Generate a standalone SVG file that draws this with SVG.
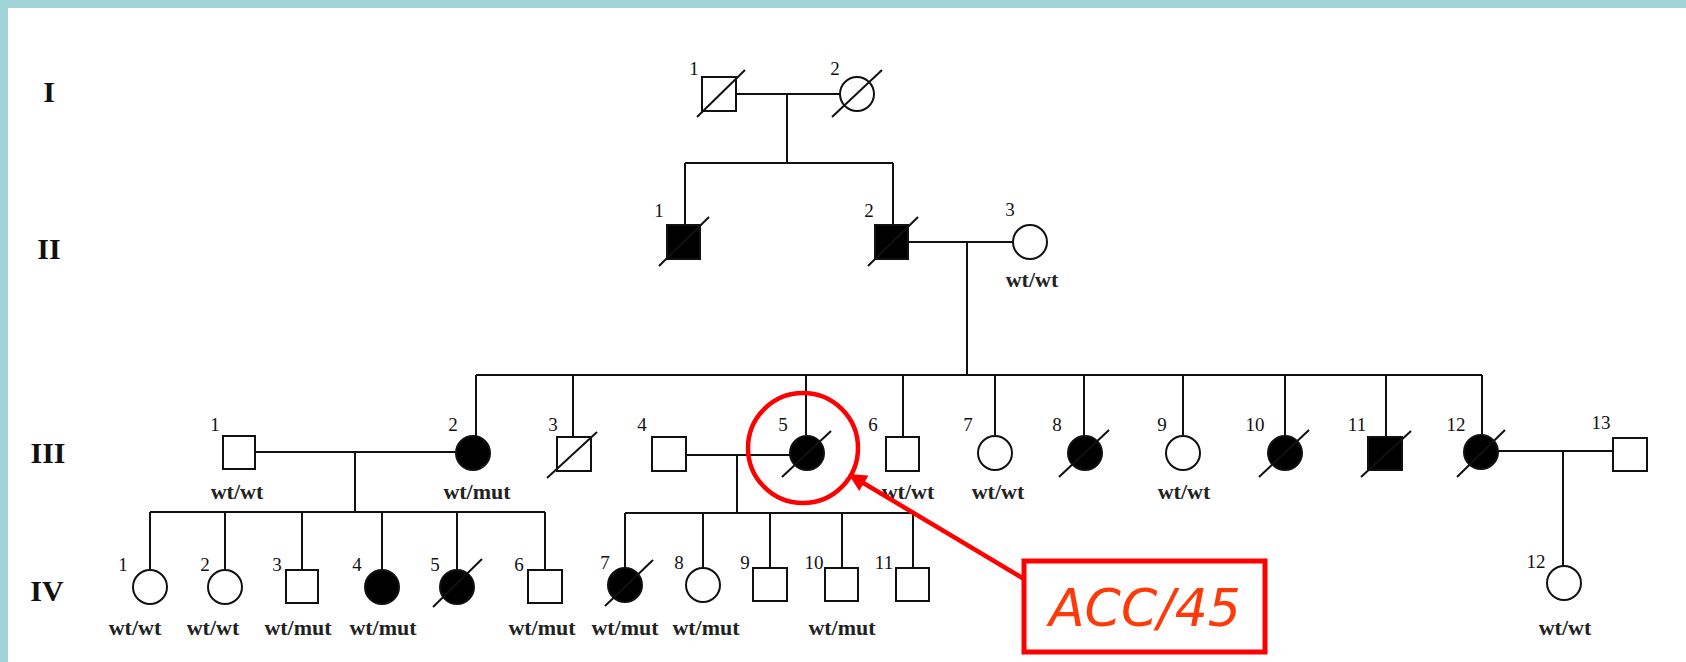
<svg xmlns="http://www.w3.org/2000/svg" width="1686" height="662" viewBox="0 0 1686 662">
  <style>
    .sq { fill: #fff; stroke: #111; stroke-width: 2; }
    .ci { fill: #fff; stroke: #111; stroke-width: 2; }
    .aff { fill: #000; }
    .dec { stroke: #111; stroke-width: 2; }
    .ln { stroke: #111; stroke-width: 2; fill: none; }
    .num { font-family: "Liberation Serif", serif; font-size: 19px; fill: #111; text-anchor: middle; }
    .gt { font-family: "Liberation Serif", serif; font-size: 22px; font-weight: bold; fill: #222; text-anchor: middle; }
    .gen { font-family: "Liberation Serif", serif; font-size: 30px; font-weight: bold; fill: #111; text-anchor: middle; }
    .red { stroke: #ff0000; fill: none; }
    .tag { font-family: "DejaVu Sans", sans-serif; font-style: oblique; font-size: 52px; fill: #ff3a0a; text-anchor: middle; }
  </style>
  <defs>
    <marker id="tip" viewBox="0 0 10 10" refX="9" refY="5" markerWidth="4" markerHeight="4" orient="auto" markerUnits="strokeWidth">
      <path d="M0,0 L10,5 L0,10 z" fill="#ff0000"/>
    </marker>
  </defs>

  <!-- page frame -->
  <rect x="0" y="0" width="1686" height="662" fill="#fff"/>
  <rect x="0" y="0" width="1686" height="8" fill="#a0d4d8"/>
  <rect x="0" y="0" width="8" height="662" fill="#a0d4d8"/>

  <!-- generation numerals -->
  <g id="generations">
    <text class="gen" x="49" y="102">I</text>
    <text class="gen" x="49" y="259">II</text>
    <text class="gen" x="48" y="463">III</text>
    <text class="gen" x="47" y="601">IV</text>
  </g>

  <!-- connectors: couple lines, descent lines and sibships -->
  <g id="connectors">
    <line class="ln" x1="736" y1="94" x2="840" y2="94"/>
    <line class="ln" x1="787" y1="94" x2="787" y2="163"/>
    <line class="ln" x1="685" y1="163" x2="893" y2="163"/>
    <line class="ln" x1="685" y1="163" x2="685" y2="225"/>
    <line class="ln" x1="893" y1="163" x2="893" y2="225"/>

    <line class="ln" x1="908" y1="242" x2="1013" y2="242"/>
    <line class="ln" x1="967" y1="242" x2="967" y2="375"/>
    <line class="ln" x1="476" y1="375" x2="1482" y2="375"/>
    <line class="ln" x1="476" y1="375" x2="476" y2="436"/>
    <line class="ln" x1="573" y1="375" x2="573" y2="437"/>
    <line class="ln" x1="806" y1="375" x2="806" y2="436"/>
    <line class="ln" x1="903" y1="375" x2="903" y2="437"/>
    <line class="ln" x1="995" y1="375" x2="995" y2="436"/>
    <line class="ln" x1="1084" y1="375" x2="1084" y2="436"/>
    <line class="ln" x1="1183" y1="375" x2="1183" y2="436"/>
    <line class="ln" x1="1285" y1="375" x2="1285" y2="436"/>
    <line class="ln" x1="1386" y1="375" x2="1386" y2="437"/>
    <line class="ln" x1="1482" y1="375" x2="1482" y2="436"/>

    <line class="ln" x1="255" y1="452" x2="456" y2="452"/>
    <line class="ln" x1="355" y1="452" x2="355" y2="512"/>
    <line class="ln" x1="150" y1="512" x2="545" y2="512"/>
    <line class="ln" x1="150" y1="512" x2="150" y2="570"/>
    <line class="ln" x1="225" y1="512" x2="225" y2="570"/>
    <line class="ln" x1="302" y1="512" x2="302" y2="570"/>
    <line class="ln" x1="382" y1="512" x2="382" y2="570"/>
    <line class="ln" x1="457" y1="512" x2="457" y2="570"/>
    <line class="ln" x1="545" y1="512" x2="545" y2="570"/>

    <line class="ln" x1="686" y1="455" x2="790" y2="455"/>
    <line class="ln" x1="737" y1="455" x2="737" y2="513"/>
    <line class="ln" x1="625" y1="513" x2="913" y2="513"/>
    <line class="ln" x1="625" y1="513" x2="625" y2="568"/>
    <line class="ln" x1="703" y1="513" x2="703" y2="568"/>
    <line class="ln" x1="770" y1="513" x2="770" y2="568"/>
    <line class="ln" x1="842" y1="513" x2="842" y2="568"/>
    <line class="ln" x1="913" y1="513" x2="913" y2="568"/>

    <line class="ln" x1="1498" y1="451" x2="1613" y2="451"/>
    <line class="ln" x1="1563" y1="451" x2="1563" y2="566"/>
  </g>

  <!-- generation I -->
  <g id="I-1">
    <rect class="sq" x="702" y="77" width="34" height="34"/>
    <line class="dec" x1="697" y1="117" x2="745" y2="70"/>
    <text class="num" x="694" y="75">1</text>
  </g>
  <g id="I-2">
    <circle class="ci" cx="857" cy="94" r="17"/>
    <line class="dec" x1="832" y1="117" x2="882" y2="70"/>
    <text class="num" x="835" y="75">2</text>
  </g>

  <!-- generation II -->
  <g id="II-1">
    <rect class="sq aff" x="667" y="225" width="33" height="34"/>
    <line class="dec" x1="659" y1="266" x2="709" y2="217"/>
    <text class="num" x="659" y="217">1</text>
  </g>
  <g id="II-2">
    <rect class="sq aff" x="875" y="225" width="33" height="34"/>
    <line class="dec" x1="868" y1="266" x2="918" y2="217"/>
    <text class="num" x="869" y="217">2</text>
  </g>
  <g id="II-3">
    <circle class="ci" cx="1030" cy="242" r="17"/>
    <text class="num" x="1010" y="216">3</text>
    <text class="gt" x="1032" y="287">wt/wt</text>
  </g>

  <!-- generation III -->
  <g id="III-1">
    <rect class="sq" x="223" y="436" width="32" height="33"/>
    <text class="num" x="215" y="431">1</text>
    <text class="gt" x="237" y="499">wt/wt</text>
  </g>
  <g id="III-2">
    <circle class="ci aff" cx="473" cy="453" r="17"/>
    <text class="num" x="453" y="431">2</text>
    <text class="gt" x="477" y="499">wt/mut</text>
  </g>
  <g id="III-3">
    <rect class="sq" x="557" y="437" width="34" height="34"/>
    <line class="dec" x1="547" y1="478" x2="597" y2="432"/>
    <text class="num" x="553" y="431">3</text>
  </g>
  <g id="III-4">
    <rect class="sq" x="652" y="437" width="34" height="34"/>
    <text class="num" x="642" y="431">4</text>
  </g>
  <g id="III-5">
    <circle class="ci aff" cx="807" cy="453" r="17"/>
    <line class="dec" x1="782" y1="477" x2="831" y2="431"/>
    <text class="num" x="783" y="431">5</text>
  </g>
  <g id="III-6">
    <rect class="sq" x="886" y="437" width="33" height="34"/>
    <text class="num" x="873" y="431">6</text>
    <text class="gt" x="908" y="499">wt/wt</text>
  </g>
  <g id="III-7">
    <circle class="ci" cx="995" cy="453" r="17"/>
    <text class="num" x="968" y="431">7</text>
    <text class="gt" x="998" y="499">wt/wt</text>
  </g>
  <g id="III-8">
    <circle class="ci aff" cx="1085" cy="453" r="17"/>
    <line class="dec" x1="1059" y1="477" x2="1109" y2="430"/>
    <text class="num" x="1057" y="431">8</text>
  </g>
  <g id="III-9">
    <circle class="ci" cx="1183" cy="453" r="17"/>
    <text class="num" x="1162" y="431">9</text>
    <text class="gt" x="1184" y="499">wt/wt</text>
  </g>
  <g id="III-10">
    <circle class="ci aff" cx="1285" cy="453" r="17"/>
    <line class="dec" x1="1259" y1="477" x2="1309" y2="430"/>
    <text class="num" x="1255" y="431">10</text>
  </g>
  <g id="III-11">
    <rect class="sq aff" x="1368" y="437" width="34" height="33"/>
    <line class="dec" x1="1361" y1="477" x2="1411" y2="431"/>
    <text class="num" x="1357" y="431">11</text>
  </g>
  <g id="III-12">
    <circle class="ci aff" cx="1481" cy="452" r="17"/>
    <line class="dec" x1="1457" y1="477" x2="1505" y2="430"/>
    <text class="num" x="1456" y="431">12</text>
  </g>
  <g id="III-13">
    <rect class="sq" x="1613" y="438" width="34" height="33"/>
    <text class="num" x="1601" y="429">13</text>
  </g>

  <!-- generation IV -->
  <g id="IV-1">
    <circle class="ci" cx="150" cy="587" r="17"/>
    <text class="num" x="123" y="571">1</text>
    <text class="gt" x="135" y="635">wt/wt</text>
  </g>
  <g id="IV-2">
    <circle class="ci" cx="225" cy="587" r="17"/>
    <text class="num" x="205" y="571">2</text>
    <text class="gt" x="213" y="635">wt/wt</text>
  </g>
  <g id="IV-3">
    <rect class="sq" x="286" y="570" width="32" height="33"/>
    <text class="num" x="277" y="571">3</text>
    <text class="gt" x="298" y="635">wt/mut</text>
  </g>
  <g id="IV-4">
    <circle class="ci aff" cx="382" cy="587" r="17"/>
    <text class="num" x="357" y="571">4</text>
    <text class="gt" x="383" y="635">wt/mut</text>
  </g>
  <g id="IV-5">
    <circle class="ci aff" cx="457" cy="587" r="17"/>
    <line class="dec" x1="433" y1="607" x2="482" y2="559"/>
    <text class="num" x="435" y="571">5</text>
  </g>
  <g id="IV-6">
    <rect class="sq" x="528" y="570" width="34" height="33"/>
    <text class="num" x="519" y="571">6</text>
    <text class="gt" x="542" y="635">wt/mut</text>
  </g>
  <g id="IV-7">
    <circle class="ci aff" cx="625" cy="585" r="17"/>
    <line class="dec" x1="605" y1="606" x2="653" y2="560"/>
    <text class="num" x="605" y="569">7</text>
    <text class="gt" x="625" y="635">wt/mut</text>
  </g>
  <g id="IV-8">
    <circle class="ci" cx="703" cy="585" r="17"/>
    <text class="num" x="679" y="569">8</text>
    <text class="gt" x="706" y="635">wt/mut</text>
  </g>
  <g id="IV-9">
    <rect class="sq" x="753" y="568" width="34" height="33"/>
    <text class="num" x="745" y="569">9</text>
  </g>
  <g id="IV-10">
    <rect class="sq" x="825" y="568" width="33" height="33"/>
    <text class="num" x="814" y="569">10</text>
    <text class="gt" x="842" y="635">wt/mut</text>
  </g>
  <g id="IV-11">
    <rect class="sq" x="896" y="568" width="33" height="33"/>
    <text class="num" x="884" y="569">11</text>
  </g>
  <g id="IV-12">
    <circle class="ci" cx="1564" cy="583" r="17"/>
    <text class="num" x="1536" y="568">12</text>
    <text class="gt" x="1565" y="635">wt/wt</text>
  </g>

  <!-- highlighted proband with callout -->
  <g id="callout">
    <circle class="red" cx="803" cy="448" r="55" stroke-width="4.5"/>
    <line class="red" x1="1024" y1="579" x2="850" y2="475" stroke-width="4.5" marker-end="url(#tip)"/>
    <rect class="red" x="1024" y="561" width="241" height="91" stroke-width="5" fill="#fff"/>
    <text class="tag" x="1145" y="626">ACC/45</text>
  </g>
</svg>
